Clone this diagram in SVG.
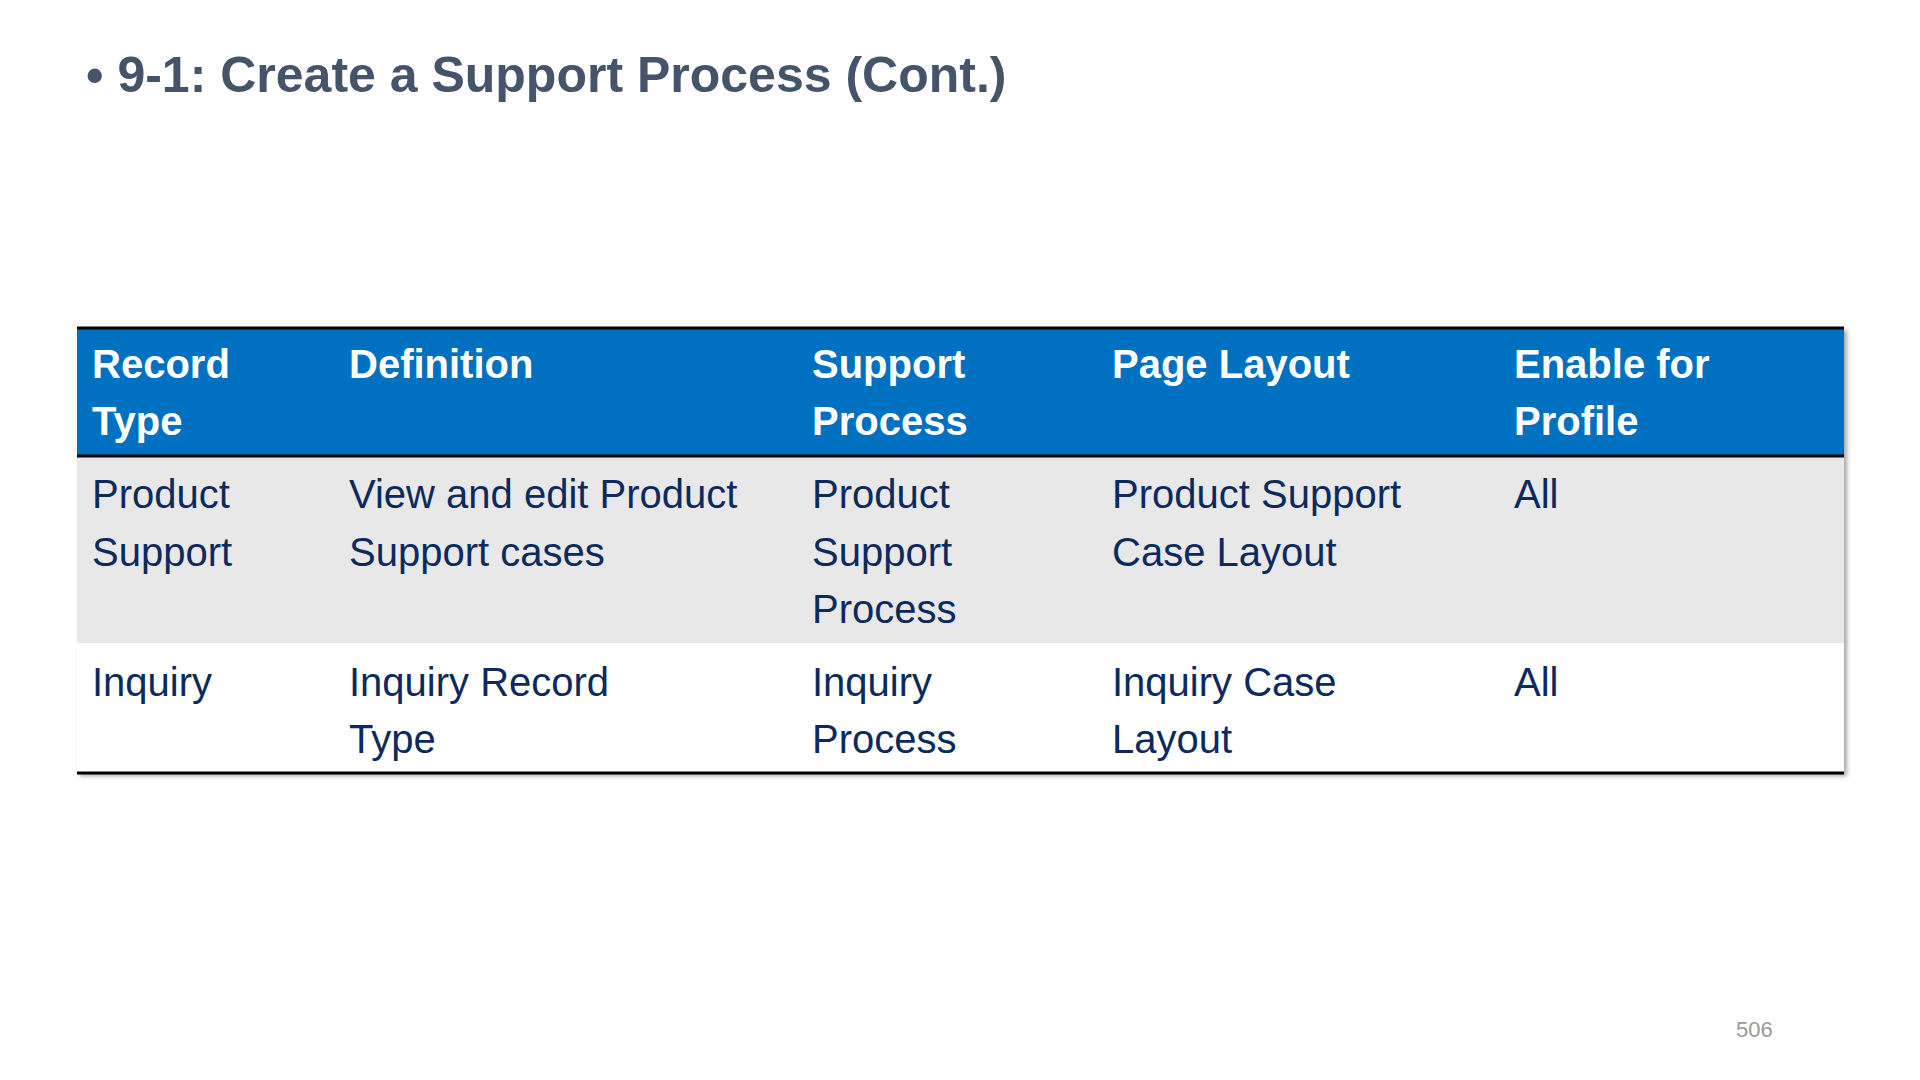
<svg xmlns="http://www.w3.org/2000/svg" width="1920" height="1080" viewBox="0 0 1920 1080">
<style>
.h{font-family:"Liberation Sans",Arial,sans-serif;font-size:40px;font-weight:bold;fill:#fff}
.c{font-family:"Liberation Sans",Arial,sans-serif;font-size:40px;fill:#0b2a5e}
</style>
<defs><filter id="sh" x="-5%" y="-5%" width="110%" height="120%"><feDropShadow dx="3" dy="3" stdDeviation="2" flood-color="#000" flood-opacity="0.35"/></filter></defs>
<rect width="1920" height="1080" fill="#fff"/>
<g id="title"><text x="86" y="92" font-family="Liberation Sans,Arial,sans-serif" font-size="50" font-weight="bold" fill="#44546a">• 9-1: Create a Support Process (Cont.)</text></g>
<g id="table">
<g filter="url(#sh)">
<rect x="77" y="327" width="1767" height="446" fill="#fff"/>
</g>
<rect x="77" y="327" width="1767" height="129" fill="#0070c0"/>
<rect x="77" y="456" width="1767" height="187" fill="#e8e8e8"/>
<line x1="77" y1="328" x2="1844" y2="328" stroke="#000" stroke-width="3"/>
<line x1="77" y1="456" x2="1844" y2="456" stroke="#000" stroke-width="3"/>
<line x1="77" y1="773" x2="1844" y2="773" stroke="#000" stroke-width="3"/>
<g id="header">
<text class="h" x="92" y="378">Record</text><text class="h" x="92" y="435">Type</text>
<text class="h" x="349" y="378">Definition</text>
<text class="h" x="812" y="378">Support</text><text class="h" x="812" y="435">Process</text>
<text class="h" x="1112" y="378">Page Layout</text>
<text class="h" x="1514" y="378">Enable for</text><text class="h" x="1514" y="435">Profile</text>
</g>
<g id="row1">
<text class="c" x="92" y="508">Product</text><text class="c" x="92" y="566">Support</text>
<text class="c" x="349" y="508">View and edit Product</text><text class="c" x="349" y="566">Support cases</text>
<text class="c" x="812" y="508">Product</text><text class="c" x="812" y="566">Support</text><text class="c" x="812" y="623">Process</text>
<text class="c" x="1112" y="508">Product Support</text><text class="c" x="1112" y="566">Case Layout</text>
<text class="c" x="1514" y="508">All</text>
</g>
<g id="row2">
<text class="c" x="92" y="696">Inquiry</text>
<text class="c" x="349" y="696">Inquiry Record</text><text class="c" x="349" y="753">Type</text>
<text class="c" x="812" y="696">Inquiry</text><text class="c" x="812" y="753">Process</text>
<text class="c" x="1112" y="696">Inquiry Case</text><text class="c" x="1112" y="753">Layout</text>
<text class="c" x="1514" y="696">All</text>
</g>
</g>
<g id="connectors"/>
<text x="1736" y="1037" font-family="Liberation Sans,Arial,sans-serif" font-size="22" fill="#999">506</text>
</svg>
